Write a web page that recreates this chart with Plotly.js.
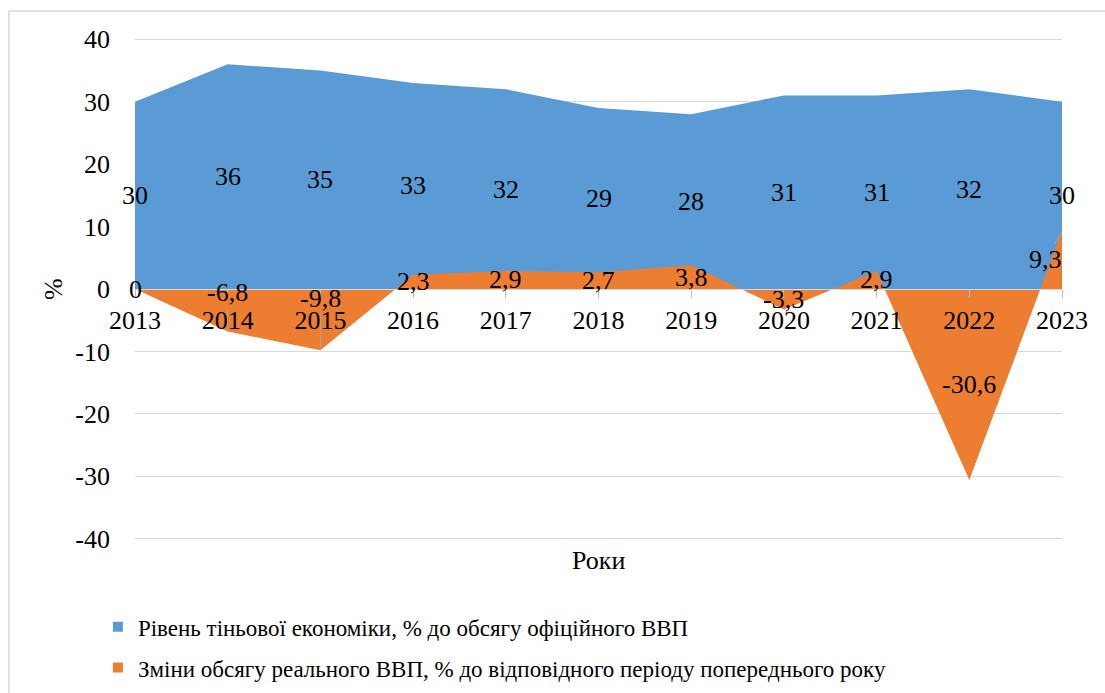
<!DOCTYPE html>
<html>
<head>
<meta charset="utf-8">
<script src="https://cdn.plot.ly/plotly-3.0.1.min.js"></script>
<style>
html,body{margin:0;padding:0;background:#fff;font-family:"Liberation Serif","Times New Roman",serif;}
#chart{width:1105px;height:693px;}
#chart text, #chart tspan{font-family:"Liberation Serif","Times New Roman",serif !important;}
</style>
</head>
<body>
<div id="chart"></div>
<script>
const years = [2013, 2014, 2015, 2016, 2017, 2018, 2019, 2020, 2021, 2022, 2023];
const shadowEconomy = [30, 36, 35, 33, 32, 29, 28, 31, 31, 32, 30];
const gdpChange = [0, -6.8, -9.8, 2.3, 2.9, 2.7, 3.8, -3.3, 2.9, -30.6, 9.3];
const seriesNames = [
  "Рівень тіньової економіки, % до обсягу офіційного ВВП",
  "Зміни обсягу реального ВВП, % до відповідного періоду попереднього року"
];
const colors = ["#5B9BD5", "#ED7D31"];
const yTicks = [-40, -30, -20, -10, 0, 10, 20, 30, 40];
const xTitle = "Роки";
const yTitle = "%";

const FONT = "Times New Roman";
const fmt = v => String(v).replace('.', ',');

// label offsets (pixels) for labels that were moved in the original, with leader lines
const movedLabels = {2014: [0, -39], 2015: [0, -52], 2023: [-17, 29]};

const traces = [
  {x: years, y: shadowEconomy, type: 'scatter', mode: 'lines', fill: 'tozeroy',
   fillcolor: colors[0], line: {width: 0, color: colors[0]}, showlegend: false, hoverinfo: 'skip'},
  {x: years, y: gdpChange, type: 'scatter', mode: 'lines', fill: 'tozeroy',
   fillcolor: colors[1], line: {width: 0, color: colors[1]}, showlegend: false, hoverinfo: 'skip'},
  {x: [null], y: [null], type: 'scatter', mode: 'markers', name: seriesNames[0],
   marker: {symbol: 'square', size: 10, color: colors[0]}, legendgroup: 'a'},
  {x: [null], y: [null], type: 'scatter', mode: 'markers', name: seriesNames[1],
   marker: {symbol: 'square', size: 10, color: colors[1]}, legendgroup: 'b'}
];

const annotations = [];
years.forEach((yr, i) => {
  annotations.push({x: yr, y: shadowEconomy[i] / 2, xref: 'x', yref: 'y', text: fmt(shadowEconomy[i]),
    showarrow: false, font: {family: FONT, size: 26, color: '#000'}});
  const mv = movedLabels[yr];
  if (mv) {
    annotations.push({x: yr, y: gdpChange[i], xref: 'x', yref: 'y', text: fmt(gdpChange[i]),
      showarrow: true, arrowhead: 0, arrowwidth: 1, arrowcolor: '#A6A6A6', ax: mv[0], ay: mv[1],
      standoff: 0, font: {family: FONT, size: 26, color: '#000'}});
  } else {
    annotations.push({x: yr, y: gdpChange[i] / 2, xref: 'x', yref: 'y', text: fmt(gdpChange[i]),
      showarrow: false, font: {family: FONT, size: 26, color: '#000'}});
  }
});

const layout = {
  width: 1105, height: 693,
  margin: {l: 135, r: 43, t: 38, b: 153, autoexpand: false},
  paper_bgcolor: '#fff', plot_bgcolor: '#fff',
  font: {family: FONT, size: 26, color: '#000'},
  xaxis: {
    range: [2013, 2023], tickvals: years, ticktext: years.map(String),
    anchor: 'free', position: 0.5,
    showgrid: false, zeroline: false,
    showline: true, linecolor: '#D9D9D9', linewidth: 1,
    ticks: 'outside', ticklen: 8, tickcolor: '#BFBFBF', tickwidth: 1,
    tickfont: {family: FONT, size: 26, color: '#000'}
  },
  yaxis: {
    range: [-40.2, 40.2], tickvals: yTicks, ticktext: yTicks.map(String),
    showgrid: true, gridcolor: '#D9D9D9', gridwidth: 1,
    zeroline: false, showline: false, ticks: '',
    ticklabelstandoff: 24,
    tickfont: {family: FONT, size: 26, color: '#000'}
  },
  legend: {
    x: -0.04, xanchor: 'left', y: -0.13, yanchor: 'top',
    orientation: 'v', traceorder: 'grouped', tracegroupgap: 8,
    font: {family: FONT, size: 23, color: '#000'}, bgcolor: 'rgba(0,0,0,0)'
  },
  showlegend: true,
  annotations: annotations.concat([
    {xref: 'paper', yref: 'paper', x: 0.5, y: -0.04, text: xTitle, showarrow: false,
     yanchor: 'middle', font: {family: FONT, size: 26, color: '#000'}},
    {xref: 'paper', yref: 'paper', x: -0.0885, y: 0.5, text: yTitle, showarrow: false, textangle: -90,
     xanchor: 'center', yanchor: 'middle', font: {family: FONT, size: 26, color: '#000'}}
  ]),
  shapes: [
    {type: 'rect', xref: 'paper', yref: 'paper', x0: -0.136, x1: 1.06, y0: -0.35, y1: 1.054,
     line: {color: '#D9D9D9', width: 1.5}, fillcolor: 'rgba(0,0,0,0)', layer: 'below'}
  ]
};

const config = {displayModeBar: false, staticPlot: true};
Plotly.newPlot('chart', traces, layout, config);
if (document.fonts && document.fonts.load) {
  document.fonts.load('26px "Liberation Serif"').then(function () {
    Plotly.newPlot('chart', traces, layout, config);
  }).catch(function () {});
}
</script>
</body>
</html>
